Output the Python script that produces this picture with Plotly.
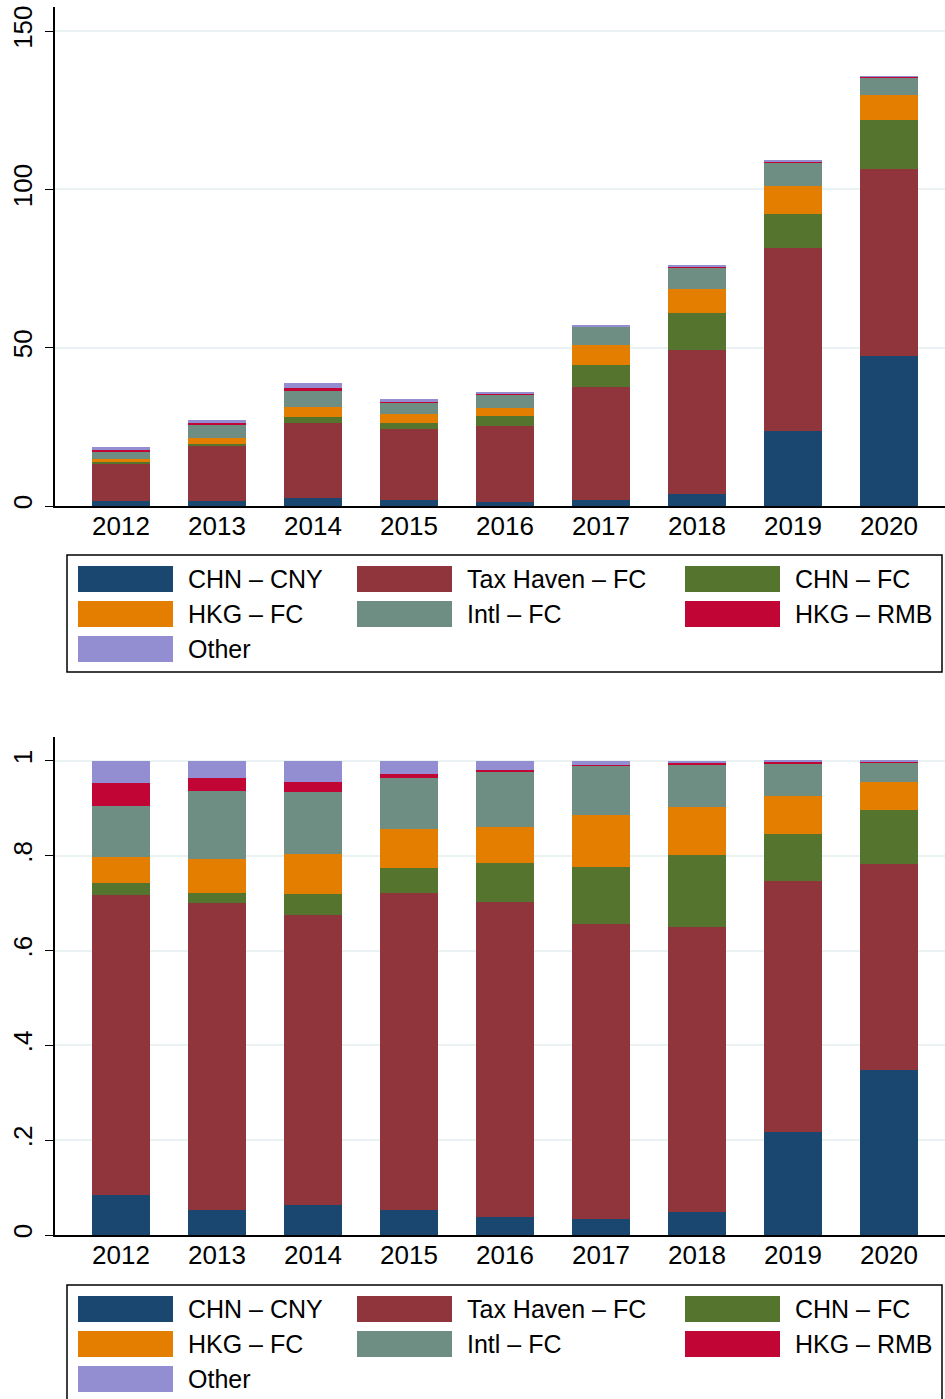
import plotly.graph_objects as go

# Data
YEARS = [2012, 2013, 2014, 2015, 2016, 2017, 2018, 2019, 2020]
SERIES = ['CHN – CNY', 'Tax Haven – FC', 'CHN – FC', 'HKG – FC', 'Intl – FC', 'HKG – RMB', 'Other']
COLORS = ['#1a476f', '#90353b', '#55752f', '#e37e00', '#6e8e84', '#c10534', '#938dd2']

# total bond stock per year (top panel height)
TOTAL = [18.7, 27.2, 39.0, 33.9, 36.1, 57.3, 76.0, 109.1, 135.8]

# shares by segment (bottom panel)
SHARE_CHN_CNY = [0.084, 0.053, 0.063, 0.053, 0.038, 0.034, 0.049, 0.217, 0.348]
SHARE_TAX_HAVEN = [0.633, 0.647, 0.612, 0.669, 0.665, 0.622, 0.601, 0.530, 0.435]
SHARE_CHN_FC = [0.026, 0.022, 0.044, 0.052, 0.082, 0.120, 0.152, 0.099, 0.114]
SHARE_HKG_FC = [0.054, 0.071, 0.085, 0.083, 0.076, 0.110, 0.101, 0.080, 0.059]
SHARE_INTL_FC = [0.108, 0.144, 0.131, 0.107, 0.116, 0.104, 0.089, 0.068, 0.040]
SHARE_HKG_RMB = [0.049, 0.027, 0.021, 0.009, 0.004, 0.002, 0.004, 0.004, 0.002]
SHARE_OTHER = [0.046, 0.036, 0.044, 0.027, 0.019, 0.008, 0.004, 0.002, 0.002]

SHARES = [SHARE_CHN_CNY, SHARE_TAX_HAVEN, SHARE_CHN_FC, SHARE_HKG_FC, SHARE_INTL_FC, SHARE_HKG_RMB, SHARE_OTHER]

W, H = 945, 1399
ML, MR, MT, MB = 55, 0, 7, 164
PW = W - ML - MR
PH = H - MT - MB
FONT = 'Liberation Sans, Arial, sans-serif'


def px_x(px):
    # page pixel -> paper fraction
    return (px - ML) / PW


def px_y(py):
    return (H - MB - py) / PH


fig = go.Figure()

for name, color, share in zip(SERIES, COLORS, SHARES):
    level = [s * t for s, t in zip(share, TOTAL)]
    fig.add_trace(go.Bar(x=YEARS, y=level, name=name, marker=dict(color=color, line=dict(width=0)),
                         width=0.6, xaxis='x', yaxis='y', showlegend=False))
    fig.add_trace(go.Bar(x=YEARS, y=share, name=name, marker=dict(color=color, line=dict(width=0)),
                         width=0.6, xaxis='x2', yaxis='y2', showlegend=False))

xcommon = dict(range=[2011.3125, 2020.583], tickvals=YEARS, ticktext=[str(y) for y in YEARS],
               showline=True, linecolor='black', linewidth=1.5, ticks='', showgrid=False,
               zeroline=False, ticklabelstandoff=-4,
               tickfont=dict(size=26, color='black', family=FONT))
ycommon = dict(showline=True, linecolor='black', linewidth=1.5, ticks='outside', ticklen=8,
               tickcolor='black', tickangle=-90, showgrid=True, gridcolor='#eaf2f3', gridwidth=2,
               zeroline=False, ticklabelstandoff=3, ticklabeloverflow='allow',
               tickfont=dict(size=26, color='black', family=FONT))

fig.update_layout(
    width=W, height=H,
    margin=dict(l=ML, r=MR, t=MT, b=MB),
    paper_bgcolor='white', plot_bgcolor='white',
    barmode='stack',
    showlegend=False,
    font=dict(family=FONT, color='black'),
    xaxis=dict(xcommon, anchor='y'),
    yaxis=dict(ycommon, domain=[px_y(506), 1], range=[0, 157.6],
               tickvals=[0, 50, 100, 150], ticktext=['0', '50', '100', '150']),
    xaxis2=dict(xcommon, anchor='y2'),
    yaxis2=dict(ycommon, domain=[0, px_y(737)], range=[0, 1.0506],
                tickvals=[0, 0.2, 0.4, 0.6, 0.8, 1], ticktext=['0', '.2', '.4', '.6', '.8', '1']),
)


def add_legend(fig, top, bottom):
    fig.add_shape(type='rect', xref='paper', yref='paper',
                  x0=px_x(67), x1=px_x(942), y0=px_y(bottom), y1=px_y(top),
                  line=dict(color='black', width=1.5), fillcolor='white')
    col_x = [78, 357, 685]
    for i, (name, color) in enumerate(zip(SERIES, COLORS)):
        row, col = divmod(i, 3)
        cy = top + 24 + row * 35
        x0 = col_x[col]
        fig.add_shape(type='rect', xref='paper', yref='paper',
                      x0=px_x(x0), x1=px_x(x0 + 95), y0=px_y(cy + 13), y1=px_y(cy - 13),
                      line=dict(width=0), fillcolor=color)
        fig.add_annotation(x=px_x(x0 + 108), y=px_y(cy), xref='paper', yref='paper',
                           text=name, showarrow=False, xanchor='left', yanchor='middle',
                           font=dict(size=25, color='black', family=FONT))


add_legend(fig, 555, 672)
add_legend(fig, 1285, 1402)

# drop the default 8px body margin so the figure sits at the window corner
fig.write_html('out.html', config={'displayModeBar': False},
               post_script="document.body.style.margin='0';document.body.style.overflow='hidden';")
